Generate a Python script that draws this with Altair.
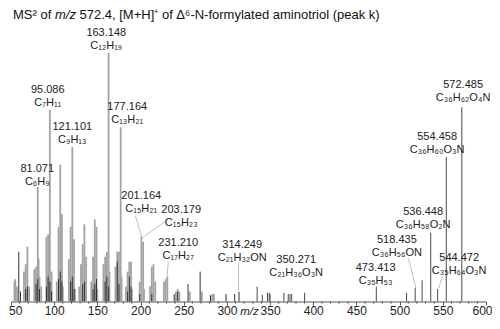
import altair as alt
import pandas as pd

# ---- spectrum data (m/z, relative intensity %) ----
light_mz = [54, 55, 57, 65, 67, 69, 71, 77, 79, 81, 82, 83, 85, 91, 92, 93, 95, 96, 97,
            103, 105, 107, 108, 109, 110, 117, 119, 120, 121, 122, 123, 124, 129, 131, 133,
            135, 136, 137, 143, 145, 147, 148, 149, 150, 157, 159, 160, 161, 163, 164, 171,
            173, 175, 177, 178, 183, 185, 187, 189, 190, 199, 201, 203, 204, 211, 213, 215,
            217, 227, 229, 231, 241, 243, 245, 257, 271, 283, 285]
light_int = [8, 9, 6, 12, 15, 22, 6, 13, 14, 46, 17, 10, 6, 26, 10, 27, 77, 8, 12,
             8, 30, 55, 10, 35, 6, 17, 30, 8, 62, 10, 25, 5, 6, 15, 23,
             31, 8, 18, 8, 18, 33, 8, 30, 5, 15, 18, 6, 20, 100, 12, 14,
             20, 20, 70, 10, 6, 12, 16, 16, 5, 8, 26, 24, 5, 6, 14, 15,
             8, 8, 9, 10, 4, 5, 4, 4, 4, 3, 3]

dark_mz = [59, 61, 67, 69, 79, 81, 83, 91, 93, 95, 97, 105, 107, 109, 119, 121, 123,
           133, 135, 145, 147, 149, 159, 161, 163, 173, 175, 185, 187, 189, 199, 213,
           239, 243, 255, 269, 281, 299, 309, 314]
dark_int = [20, 4, 5, 6, 7, 9, 5, 6, 10, 8, 4, 9, 12, 8, 8, 10, 5,
            7, 8, 5, 7, 9, 8, 10, 6, 16, 7, 4, 10, 6, 3, 3,
            3, 4, 7, 12, 2.5, 3, 3, 4]

high_mz = [335, 341, 347, 349, 350, 366, 371, 373, 375, 390, 473, 508, 518, 526, 536,
           544, 554, 572]
high_int = [6, 2.7, 3.5, 3.5, 3, 3.5, 3, 3, 3, 3.5, 6, 3.5, 5.4, 8.5, 27.7,
            5, 58, 78]

# ---- annotations ----
label_mass = ["163.148", "95.086", "121.101", "177.164", "81.071", "201.164", "203.179",
              "231.210", "314.249", "350.271", "473.413", "518.435", "536.448", "544.472",
              "554.458", "572.485"]
label_formula = ["C₁₂H₁₉", "C₇H₁₁", "C₉H₁₃", "C₁₃H₂₁", "C₆H₉", "C₁₅H₂₁", "C₁₅H₂₃",
                 "C₁₇H₂₇", "C₂₁H₃₂ON", "C₂₁H₃₆O₃N", "C₃₅H₅₃", "C₃₆H₅₆ON", "C₃₆H₅₈O₂N",
                 "C₃₅H₆₄O₃N", "C₃₆H₆₀O₃N", "C₃₆H₆₂O₄N"]
label_x = [160.3, 92.6, 121.0, 184.6, 80.4, 200.8, 247.1, 243.6, 317.7, 380.2, 472.2,
           496.8, 527.2, 568.9, 543.4, 573.5]
label_y = [107.8, 85.1, 69.9, 78.3, 53.2, 42.4, 36.6, 23.3, 22.6, 16.7, 13.6, 24.6,
           35.9, 17.6, 66.1, 87.1]

leader_x1 = [193.9, 230.6, 232.1, 313.4, 510.2, 549.8]
leader_y1 = [34.6, 32.6, 16.1, 15.3, 17.3, 10.2]
leader_x2 = [201.6, 202.0, 230.6, 313.4, 518.8, 545.2]
leader_y2 = [25.6, 25.6, 9.4, 4.5, 5.4, 5.4]

major_ticks = list(range(50, 601, 50))
minor_ticks = [v for v in range(60, 600, 10) if v % 50 != 0]

W, H = 475, 249
FONT = "Liberation Sans"

xscale = alt.Scale(domain=[50, 600], nice=False, zero=False)
yscale = alt.Scale(domain=[0, 100], nice=False)

light = pd.DataFrame({"mz": light_mz, "i": light_int, "b": 0})
dark = pd.DataFrame({"mz": dark_mz, "i": dark_int, "b": 0})
high = pd.DataFrame({"mz": high_mz, "i": high_int, "b": 0})
labels = pd.DataFrame({"x": label_x, "y": label_y, "m": label_mass, "f": label_formula})
leaders = pd.DataFrame({"x1": leader_x1, "y1": leader_y1, "x2": leader_x2, "y2": leader_y2})
minors = pd.DataFrame({"t": minor_ticks})

xaxis = alt.Axis(
    values=major_ticks, tickSize=3.5, tickColor="#555555", domainColor="#555555",
    labelFontSize=12, labelFont=FONT, labelColor="#222222", labelPadding=0,
    labelAlign={"condition": [{"test": "datum.value == 50", "value": "left"},
                              {"test": "datum.value == 600", "value": "right"}],
                "value": "center"},
    labelOffset={"condition": [{"test": "datum.value == 50", "value": -2.5},
                               {"test": "datum.value == 600", "value": 6}], "value": 0},
    grid=False, title=None)

l_light = alt.Chart(light).mark_rule(color="#a3a3a3", strokeWidth=1.8).encode(
    x=alt.X("mz:Q", scale=xscale, axis=xaxis),
    y=alt.Y("i:Q", scale=yscale, axis=None),
    y2="b:Q",
)
l_dark = alt.Chart(dark).mark_rule(color="#333333", strokeWidth=1).encode(
    x=alt.X("mz:Q", scale=xscale), y=alt.Y("i:Q", scale=yscale), y2="b:Q")
l_high = alt.Chart(high).mark_rule(color="#4a4a4a", strokeWidth=1).encode(
    x=alt.X("mz:Q", scale=xscale), y=alt.Y("i:Q", scale=yscale), y2="b:Q")

l_minor = alt.Chart(minors).mark_rule(color="#555555", strokeWidth=1).encode(
    x=alt.X("t:Q", scale=xscale), y=alt.value(H), y2=alt.value(H + 2.2))

l_lead = alt.Chart(leaders).mark_rule(color="#b0b0b0", strokeWidth=0.8).encode(
    x=alt.X("x1:Q", scale=xscale), y=alt.Y("y1:Q", scale=yscale),
    x2="x2:Q", y2="y2:Q")

l_mass = alt.Chart(labels).mark_text(font=FONT, fontSize=11, color="#222222",
                                     baseline="middle", align="center").encode(
    x=alt.X("x:Q", scale=xscale), y=alt.Y("y:Q", scale=yscale), text="m:N")
l_form = alt.Chart(labels).mark_text(font=FONT, fontSize=11, color="#222222",
                                     baseline="middle", align="center", dy=13).encode(
    x=alt.X("x:Q", scale=xscale), y=alt.Y("y:Q", scale=yscale), text="f:N")

xtitle = alt.Chart(pd.DataFrame({"t": ["m/z"]})).mark_text(
    font=FONT, fontSize=11.5, fontStyle="italic", color="#222222", align="center",
    baseline="alphabetic").encode(x=alt.value(W / 2 + 1), y=alt.value(H + 13), text="t:N")

TY = -33.5
t1 = alt.Chart(pd.DataFrame({"t": ["MS² of"]})).mark_text(
    font=FONT, fontSize=13, color="#111111", align="left", baseline="alphabetic").encode(
    x=alt.value(2), y=alt.value(TY), text="t:N")
t2 = alt.Chart(pd.DataFrame({"t": ["m/z"]})).mark_text(
    font=FONT, fontSize=13, fontStyle="italic", color="#111111", align="left",
    baseline="alphabetic").encode(x=alt.value(44), y=alt.value(TY), text="t:N")
t3 = alt.Chart(pd.DataFrame({"t": ["572.4, [M+H]⁺ of Δ⁶-N-formylated aminotriol (peak k)"]})).mark_text(
    font=FONT, fontSize=13, color="#111111", align="left", baseline="alphabetic").encode(
    x=alt.value(68.5), y=alt.value(TY), text="t:N")

chart = alt.layer(l_light, l_dark, l_high, l_minor, l_lead, l_mass, l_form, xtitle,
                  t1, t2, t3).properties(
    width=W, height=H, autosize="none",
    padding={"left": 3, "top": 44.5, "right": 6, "bottom": 14.5},
).configure_view(stroke=None)

chart.save("out.html", embed_options={"renderer": "svg", "actions": False})
